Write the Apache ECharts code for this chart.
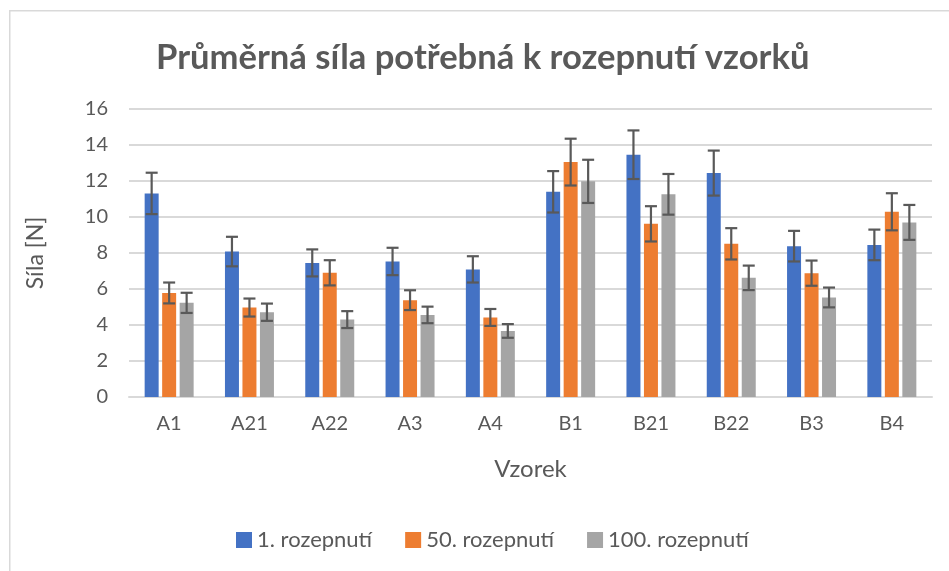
<!DOCTYPE html>
<html>
<head>
<meta charset="utf-8">
<script src="https://cdn.jsdelivr.net/npm/echarts@6/dist/echarts.min.js"></script>
<style>
html,body{margin:0;padding:0;background:#fff;}
#chart{width:949px;height:571px;}
</style>
</head>
<body>
<div id="chart"></div>
<script>
const categories = ['A1','A21','A22','A3','A4','B1','B21','B22','B3','B4'];
const seriesNames = ['1. rozepnutí','50. rozepnutí','100. rozepnutí'];
const values1 = [11.31, 8.08, 7.45, 7.53, 7.09, 11.40, 13.46, 12.44, 8.38, 8.45];
const values50 = [5.78, 4.97, 6.90, 5.38, 4.42, 13.05, 9.62, 8.51, 6.88, 10.29];
const values100 = [5.23, 4.71, 4.30, 4.56, 3.67, 11.98, 11.26, 6.62, 5.53, 9.70];
const err1 = [1.15, 0.82, 0.75, 0.76, 0.73, 1.15, 1.35, 1.25, 0.85, 0.85];
const err50 = [0.58, 0.50, 0.70, 0.55, 0.47, 1.30, 0.98, 0.87, 0.70, 1.03];
const err100 = [0.56, 0.48, 0.47, 0.46, 0.38, 1.20, 1.13, 0.68, 0.55, 0.97];
const yTicks = [0, 2, 4, 6, 8, 10, 12, 14, 16];

const colors = ['#4472C4', '#ED7D31', '#A5A5A5'];
const FONT = 'Lato';
const TXT = '#595959';
const CAT_GAP = 0.39, BAR_GAP = 0.25, N = 3;

const allValues = [values1, values50, values100];
const allErr = [err1, err50, err100];

function errorSeries(k) {
  return {
    type: 'custom',
    name: 'err' + k,
    z: 10,
    silent: true,
    data: categories.map((c, i) => [i, allValues[k][i] - allErr[k][i], allValues[k][i] + allErr[k][i]]),
    renderItem: function (params, api) {
      const idx = api.value(0);
      const lo = api.coord([idx, api.value(1)]);
      const hi = api.coord([idx, api.value(2)]);
      const band = api.size([1, 0])[0];
      const bw = band * (1 - CAT_GAP) / (N + (N - 1) * BAR_GAP);
      const total = N * bw + (N - 1) * BAR_GAP * bw;
      const x = lo[0] - total / 2 + bw / 2 + k * bw * (1 + BAR_GAP);
      const cap = 6;
      const style = { stroke: '#595959', lineWidth: 2.2 };
      return {
        type: 'group',
        children: [
          { type: 'line', shape: { x1: x, y1: lo[1], x2: x, y2: hi[1] }, style: style },
          { type: 'line', shape: { x1: x - cap, y1: hi[1], x2: x + cap, y2: hi[1] }, style: style },
          { type: 'line', shape: { x1: x - cap, y1: lo[1], x2: x + cap, y2: lo[1] }, style: style }
        ]
      };
    }
  };
}

const chart = echarts.init(document.getElementById('chart'));
chart.setOption({
  animation: false,
  textStyle: { fontFamily: FONT },
  graphic: [{
    type: 'rect', left: 9, top: 10, z: -10,
    shape: { width: 1200, height: 800 },
    style: { fill: '#fff', stroke: '#D9D9D9', lineWidth: 1.5 }
  }],
  title: {
    text: 'Průměrná síla potřebná k rozepnutí vzorků',
    left: 151,
    top: 35,
    textStyle: { fontFamily: FONT, fontSize: 34.6, fontWeight: 'bold', color: TXT }
  },
  legend: {
    data: seriesNames,
    bottom: 15,
    left: 231,
    icon: 'rect',
    itemWidth: 16,
    itemHeight: 16,
    itemGap: 33,
    textStyle: { fontFamily: FONT, fontSize: 22, color: TXT }
  },
  grid: { left: 129, right: 17, top: 109, bottom: 174 },
  xAxis: {
    type: 'category',
    data: categories,
    name: 'Vzorek',
    nameLocation: 'middle',
    nameGap: 60,
    nameTextStyle: { fontFamily: FONT, fontSize: 24, color: TXT },
    axisLine: { lineStyle: { color: '#D9D9D9', width: 2 } },
    axisTick: { show: false },
    axisLabel: { fontFamily: FONT, fontSize: 20, color: TXT, margin: 17 }
  },
  yAxis: {
    type: 'value',
    min: yTicks[0],
    max: yTicks[yTicks.length - 1],
    interval: 2,
    name: 'Síla [N]',
    nameLocation: 'middle',
    nameGap: 82,
    nameRotate: 90,
    nameTextStyle: { fontFamily: FONT, fontSize: 23, color: TXT },
    axisLine: { show: false },
    axisTick: { show: false },
    axisLabel: { fontFamily: FONT, fontSize: 20, color: TXT, margin: 21 },
    splitLine: { lineStyle: { color: '#D9D9D9', width: 2 } }
  },
  series: [
    { type: 'bar', name: seriesNames[0], data: values1, itemStyle: { color: colors[0] }, barGap: (BAR_GAP * 100) + '%', barCategoryGap: (CAT_GAP * 100) + '%' },
    { type: 'bar', name: seriesNames[1], data: values50, itemStyle: { color: colors[1] } },
    { type: 'bar', name: seriesNames[2], data: values100, itemStyle: { color: colors[2] } },
    errorSeries(0), errorSeries(1), errorSeries(2)
  ]
});
</script>
</body>
</html>
